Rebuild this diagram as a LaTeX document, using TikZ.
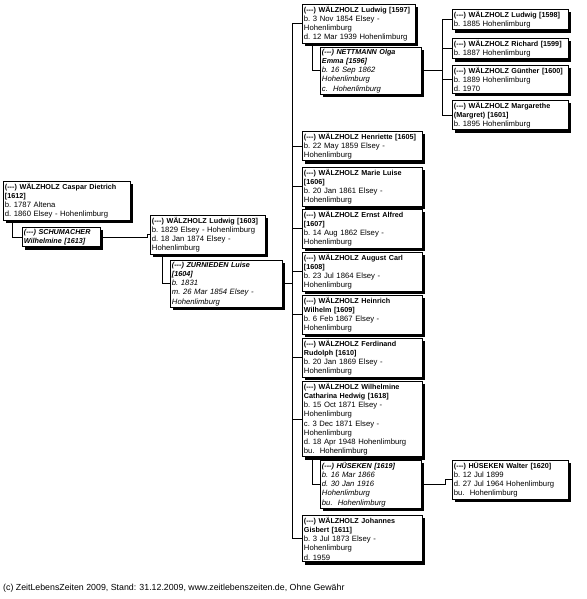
\documentclass[tikz,border=0pt]{standalone}
\usepackage{fontspec}
\setmainfont{Liberation Sans}
\usetikzlibrary{shadows}

\newcommand{\nm}[1]{{\fontsize{7.2}{9.2}\selectfont\bfseries #1}}

\begin{document}
\begin{tikzpicture}[x=1pt, y=-1pt]

% definitions
\tikzstyle{person} = [rectangle, anchor=north west, draw=black, line width=0.9pt, fill=white, inner xsep=1.5pt, inner ysep=1.6pt, align=left, font=\fontsize{7.7}{9.2}\selectfont, execute at begin node={\frenchspacing\hyphenpenalty=10000 }, drop shadow={shadow xshift=3pt, shadow yshift=-3pt, opacity=1, fill=black}]

\tikzstyle{spouse} = [person, font=\fontsize{7.7}{9.2}\selectfont\itshape]

\tikzstyle{line} = [draw=black, line width=0.9pt]

\useasboundingbox [fill=white] (0,0) rectangle (586,599);

\coordinate (t0) at (147,0);
\coordinate (t1) at (292,0);
\coordinate (t2) at (442,0);
\coordinate (t3) at (445,0);

% the graph
\node (p1612) [person, text width=124pt] at (3,181) {\nm{(-{}-{}-) WÄLZHOLZ Caspar Dietrich}\\\nm{[1612]}\\b. 1787 Altena\\d. 1860 Elsey - Hohenlimburg};

\node (p1613) [spouse, text width=75pt] at (22,227) {\nm{(-{}-{}-) SCHUMACHER}\\\nm{Wilhelmine [1613]}};

\node (p1603) [person, text width=112pt] at (150,215) {\nm{(-{}-{}-) WÄLZHOLZ Ludwig [1603]}\\b. 1829 Elsey - Hohenlimburg\\d. 18 Jan 1874 Elsey -\\Hohenlimburg};

\node (p1604) [spouse, text width=109pt] at (170,260) {\nm{(-{}-{}-) ZURNIEDEN Luise}\\\nm{[1604]}\\b. 1831\\m. 26 Mar 1854 Elsey -\\Hohenlimburg};

\node (p1597) [person, text width=110pt] at (302,4) {\nm{(-{}-{}-) WÄLZHOLZ Ludwig [1597]}\\b. 3 Nov 1854 Elsey -\\Hohenlimburg\\d. 12 Mar 1939 Hohenlimburg};

\node (p1596) [spouse, text width=98pt] at (320,47) {\nm{(-{}-{}-) NETTMANN Olga}\\\nm{Emma [1596]}\\b. 16 Sep 1862\\Hohenlimburg\\c.~~Hohenlimburg};

\node (p1598) [person, text width=113pt] at (452,9) {\nm{(-{}-{}-) WÄLZHOLZ Ludwig [1598]}\\b. 1885 Hohenlimburg};

\node (p1599) [person, text width=113pt] at (452,38) {\nm{(-{}-{}-) WÄLZHOLZ Richard [1599]}\\b. 1887 Hohenlimburg};

\node (p1600) [person, text width=113pt] at (452,65) {\nm{(-{}-{}-) WÄLZHOLZ Günther [1600]}\\b. 1889 Hohenlimburg\\d. 1970};

\node (p1601) [person, text width=113pt] at (452,100) {\nm{(-{}-{}-) WÄLZHOLZ Margarethe}\\\nm{(Margret) [1601]}\\b. 1895 Hohenlimburg};

\node (p1605) [person, text width=117pt] at (302,131) {\nm{(-{}-{}-) WÄLZHOLZ Henriette [1605]}\\b. 22 May 1859 Elsey -\\Hohenlimburg};

\node (p1606) [person, text width=117pt] at (302,167) {\nm{(-{}-{}-) WÄLZHOLZ Marie Luise}\\\nm{[1606]}\\b. 20 Jan 1861 Elsey -\\Hohenlimburg};

\node (p1607) [person, text width=117pt] at (302,209) {\nm{(-{}-{}-) WÄLZHOLZ Ernst Alfred}\\\nm{[1607]}\\b. 14 Aug 1862 Elsey -\\Hohenlimburg};

\node (p1608) [person, text width=117pt] at (302,252) {\nm{(-{}-{}-) WÄLZHOLZ August Carl}\\\nm{[1608]}\\b. 23 Jul 1864 Elsey -\\Hohenlimburg};

\node (p1609) [person, text width=117pt] at (302,295) {\nm{(-{}-{}-) WÄLZHOLZ Heinrich}\\\nm{Wilhelm [1609]}\\b. 6 Feb 1867 Elsey -\\Hohenlimburg};

\node (p1610) [person, text width=117pt] at (302,338) {\nm{(-{}-{}-) WÄLZHOLZ Ferdinand}\\\nm{Rudolph [1610]}\\b. 20 Jan 1869 Elsey -\\Hohenlimburg};

\node (p1618) [person, text width=117pt] at (302,381) {\nm{(-{}-{}-) WÄLZHOLZ Wilhelmine}\\\nm{Catharina Hedwig [1618]}\\b. 15 Oct 1871 Elsey -\\Hohenlimburg\\c. 3 Dec 1871 Elsey -\\Hohenlimburg\\d. 18 Apr 1948 Hohenlimburg\\bu.~~Hohenlimburg};

\node (p1619) [spouse, text width=98pt] at (320,460) {\nm{(-{}-{}-) HÜSEKEN [1619]}\\b. 16 Mar 1866\\d. 30 Jan 1916\\Hohenlimburg\\bu.~~Hohenlimburg};

\node (p1620) [person, text width=113pt] at (452,460) {\nm{(-{}-{}-) HÜSEKEN Walter [1620]}\\b. 12 Jul 1899\\d. 27 Jul 1964 Hohenlimburg\\bu.~~Hohenlimburg};

\node (p1611) [person, text width=117pt] at (302,515) {\nm{(-{}-{}-) WÄLZHOLZ Johannes}\\\nm{Gisbert [1611]}\\b. 3 Jul 1873 Elsey -\\Hohenlimburg\\d. 1959};

\node (foot) [anchor=west, inner sep=0pt, font=\fontsize{8.8}{10}\selectfont] at (3,588) {(c) ZeitLebensZeiten 2009, Stand: 31.12.2009, www.zeitlebenszeiten.de, Ohne Gewähr};

% connectors
\draw [line] ([xshift=9pt]p1612.south west) |- (p1613.west);
\draw [line] (p1613.east) -- (p1613.east -| t0) -- (p1603.west -| t0) -- (p1603.west);
\draw [line] ([xshift=12pt]p1603.south west) |- (p1604.west);
\draw [line] (p1604.east) -- (p1604.east -| t1);
\draw [line] (p1597.west -| t1) -- (p1611.west -| t1);
\foreach \n in {1597,1605,1606,1607,1608,1609,1610,1618,1611}
  \draw [line] (p\n.west) -- (p\n.west -| t1);
\draw [line] ([xshift=10pt]p1597.south west) |- (p1596.west);
\draw [line] (p1596.east) -- (p1596.east -| t2);
\draw [line] (p1598.west -| t2) -- (p1601.west -| t2);
\foreach \n in {1598,1599,1600,1601}
  \draw [line] (p\n.west) -- (p\n.west -| t2);
\draw [line] ([xshift=10pt]p1618.south west) |- (p1619.west);
\draw [line] (p1619.east) -- (p1619.east -| t3) -- (p1620.west -| t3) -- (p1620.west);

\end{tikzpicture}
\end{document}
